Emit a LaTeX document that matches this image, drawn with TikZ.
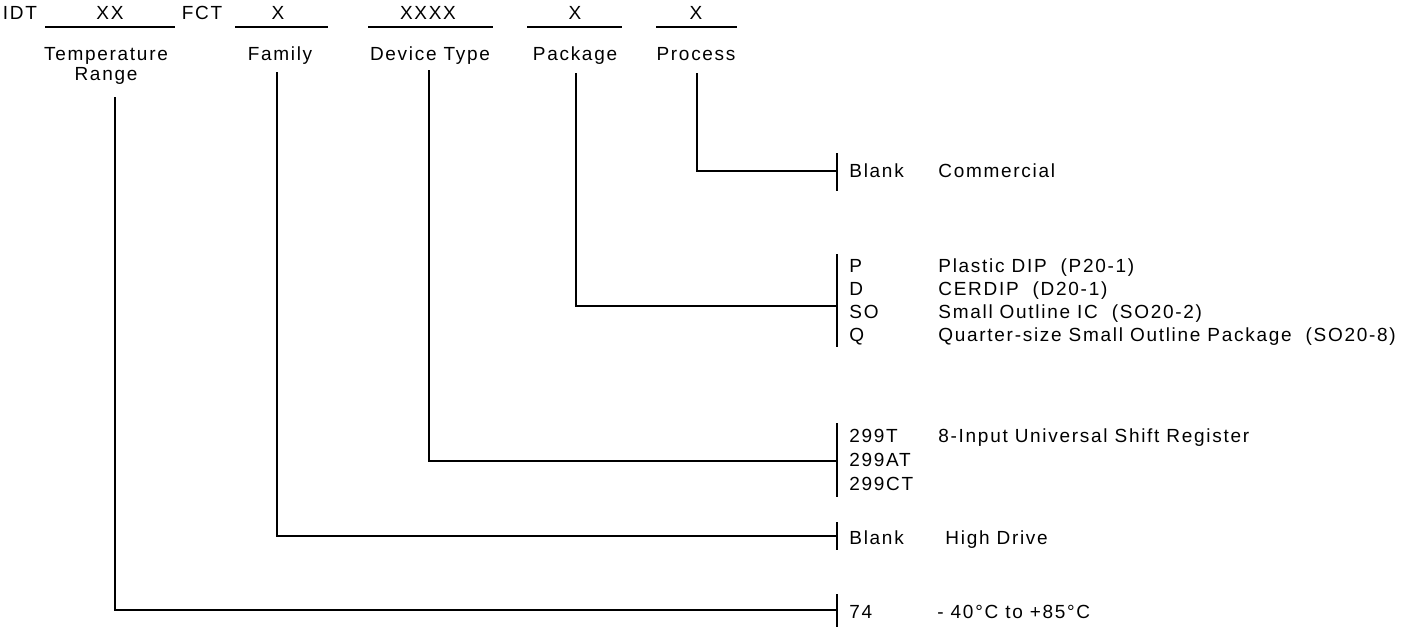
\documentclass[tikz,border=0pt]{standalone}
\usepackage{fontspec}
\setmainfont{Liberation Sans}[LetterSpace=9]
\usetikzlibrary{positioning}
\tikzset{
  fieldtext/.style={anchor=base, inner sep=0pt, font=\fontsize{9.5}{11}\selectfont},
  headlabel/.style={anchor=base, inner sep=0pt, font=\fontsize{9.5}{11}\selectfont},
  codetext/.style={anchor=base west, inner sep=0pt, font=\fontsize{9.5}{11}\selectfont},
  fieldline/.style={line width=0.7pt},
  codebar/.style={line width=0.8pt},
  leadline/.style={line width=0.8pt}
}

\begin{document}
\begin{tikzpicture}[x=0.5pt, y=-0.5pt]
  \useasboundingbox (0,0) rectangle (1421,627);

  % part number fields
  \node[fieldtext] (idt)  at (20,19)  {IDT};
  \node[fieldtext] (ftemp) at (110,19) {XX};
  \node[fieldtext] (fct)  at (202,19) {FCT};
  \node[fieldtext] (ffam) at (278,19) {X};
  \node[fieldtext] (fdev) at (428,19) {XXXX};
  \node[fieldtext] (fpkg) at (575,19) {X};
  \node[fieldtext] (fproc) at (696,19) {X};
  \draw[fieldline] (45,27) -- (175,27);
  \draw[fieldline] (235,27) -- (328,27);
  \draw[fieldline] (368,27) -- (493,27);
  \draw[fieldline] (527,27) -- (622,27);
  \draw[fieldline] (656,27) -- (737,27);

  % field names
  \node[headlabel] (ltemp)  at (106,60) {Temperature};
  \node[headlabel] (ltemp2) at (106,80) {Range};
  \node[headlabel] (lfam)   at (280,60) {Family};
  \node[headlabel] (ldev)   at (430,60) {Device Type};
  \node[headlabel] (lpkg)   at (575,60) {Package};
  \node[headlabel] (lproc)  at (696,60) {Process};

  \coordinate (ctemp) at (115,97);
  \coordinate (cfam)  at (277,72);
  \coordinate (cdev)  at (429,70);
  \coordinate (cpkg)  at (576,73);
  \coordinate (cproc) at (697,73);

  % option bars
  \coordinate (bproc) at (837,171);
  \coordinate (bpkg)  at (837,306);
  \coordinate (bdev)  at (837,461);
  \coordinate (bfam)  at (837,536);
  \coordinate (btemp) at (837,610);
  \draw[codebar] (837,153) -- (837,191);
  \draw[codebar] (837,254) -- (837,347);
  \draw[codebar] (837,423) -- (837,497);
  \draw[codebar] (837,522) -- (837,550);
  \draw[codebar] (837,594) -- (837,627);

  % process
  \node[codetext] (oproc)  at (849,177) {Blank};
  \node[codetext] (dproc)  at (938,177) {Commercial};
  % package
  \node[codetext] (opkg1) at (849,272) {P};
  \node[codetext] (dpkg1) at (938,272) {Plastic DIP\ \ (P20-1)};
  \node[codetext] (opkg2) at (849,295) {D};
  \node[codetext] (dpkg2) at (938,295) {CERDIP\ \ (D20-1)};
  \node[codetext] (opkg3) at (849,318) {SO};
  \node[codetext] (dpkg3) at (938,318) {Small Outline IC\ \ (SO20-2)};
  \node[codetext] (opkg4) at (849,341) {Q};
  \node[codetext] (dpkg4) at (938,341) {Quarter-size Small Outline Package\ \ (SO20-8)};
  % device type
  \node[codetext] (odev1) at (849,442) {299T};
  \node[codetext] (ddev1) at (938,442) {8-Input Universal Shift Register};
  \node[codetext] (odev2) at (849,466) {299AT};
  \node[codetext] (odev3) at (849,490) {299CT};
  % family
  \node[codetext] (ofam) at (849,544) {Blank};
  \node[codetext] (dfam) at (945,544) {High Drive};
  % temperature
  \node[codetext] (otemp) at (849,618) {74};
  \node[codetext] (dtemp) at (937,618) {- 40°C to +85°C};

  \draw[leadline] (cproc) |- (bproc);
  \draw[leadline] (cpkg)  |- (bpkg);
  \draw[leadline] (cdev)  |- (bdev);
  \draw[leadline] (cfam)  |- (bfam);
  \draw[leadline] (ctemp) |- (btemp);
\end{tikzpicture}
\end{document}
